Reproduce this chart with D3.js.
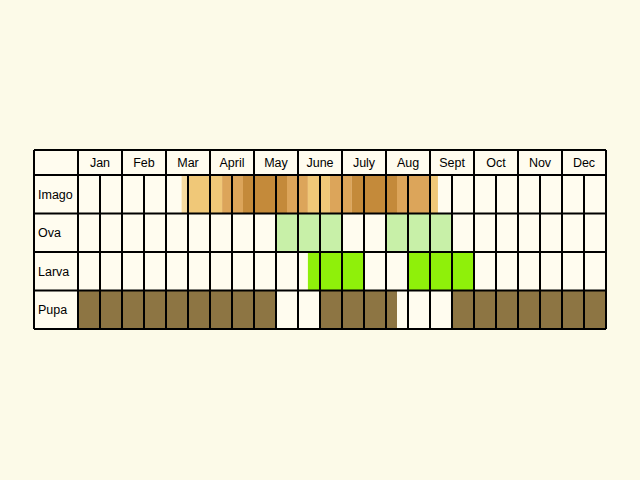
<!DOCTYPE html><html><head><meta charset="utf-8"><script src="https://cdn.jsdelivr.net/npm/d3@7"></script>
<style>body{margin:0;background:#fcfae8}</style></head><body><svg id="c" width="640" height="480"></svg>
<script>
const months=["Jan","Feb","Mar","April","May","June","July","Aug","Sept","Oct","Nov","Dec"];
const stages=["Imago","Ova","Larva","Pupa"];
const shades=["#f7dba0","#f0c878","#dca55a","#c48a3a"];
// [stage, startHalfMonth, endHalfMonth, colorKey]
const imago=[[4.71,5,0],[5,6,1],[6,6.55,1],[6.55,7,2],[7,7.5,2],[7.5,8,3],[8,9,3],[9,9.5,3],[9.5,10,2],[10,10.45,2],[10.45,11,1],[11,11.45,1],[11.45,12,2],[12,12.45,2],[12.45,13,3],[13,14,3],[14,14.5,3],[14.5,15,2],[15,16,2],[16,16.36,1]];
const ova=[[9,12],[14,17]];
const larva=[[10.45,13],[15,18]];
const pupa=[[0,9],[11,14.5],[17,24]];
const svg=d3.select("#c");
svg.append("rect").attr("width",640).attr("height",480).attr("fill","#fcfae8");
const x=d3.scaleLinear().domain([0,24]).range([78,606]);
const y=d3.scaleBand().domain(stages).range([175,329]);
const L=34, T=150;
svg.append("rect").attr("x",L).attr("y",T).attr("width",606-L).attr("height",329-T).attr("fill","#fffcef");
function seg(data,stage,color){
 svg.selectAll(null).data(data).enter().append("rect")
  .attr("x",d=>x(d[0])).attr("width",d=>x(d[1])-x(d[0]))
  .attr("y",y(stage)).attr("height",y.bandwidth())
  .attr("fill",typeof color==="function"?color:()=>color);
}
seg(imago,"Imago",d=>shades[d[2]]);
seg(ova,"Ova","#c8f0a8");
seg(larva,"Larva","#8ff00a");
seg(pupa,"Pupa","#8d7543");
const g=svg.append("g").attr("stroke","#000").attr("stroke-width",2);
// horizontal lines
[T,...stages.map(s=>y(s)),329].forEach(v=>g.append("line").attr("x1",L).attr("x2",606).attr("y1",v).attr("y2",v));
// vertical lines
g.append("line").attr("x1",L).attr("x2",L).attr("y1",T).attr("y2",329);
d3.range(0,25).forEach(i=>g.append("line").attr("x1",x(i)).attr("x2",x(i)).attr("y1",i%2===0?T:175).attr("y2",329));
svg.selectAll(null).data(months).enter().append("text")
 .attr("x",(d,i)=>x(2*i+1)).attr("y",T+17).attr("text-anchor","middle")
 .attr("font-family","Liberation Sans, Arial, sans-serif").attr("font-size",12.5).text(d=>d);
svg.selectAll(null).data(stages).enter().append("text")
 .attr("x",L+4).attr("y",d=>y(d)+y.bandwidth()/2+4.5)
 .attr("font-family","Liberation Sans, Arial, sans-serif").attr("font-size",12.5).text(d=>d);
</script></body></html>
